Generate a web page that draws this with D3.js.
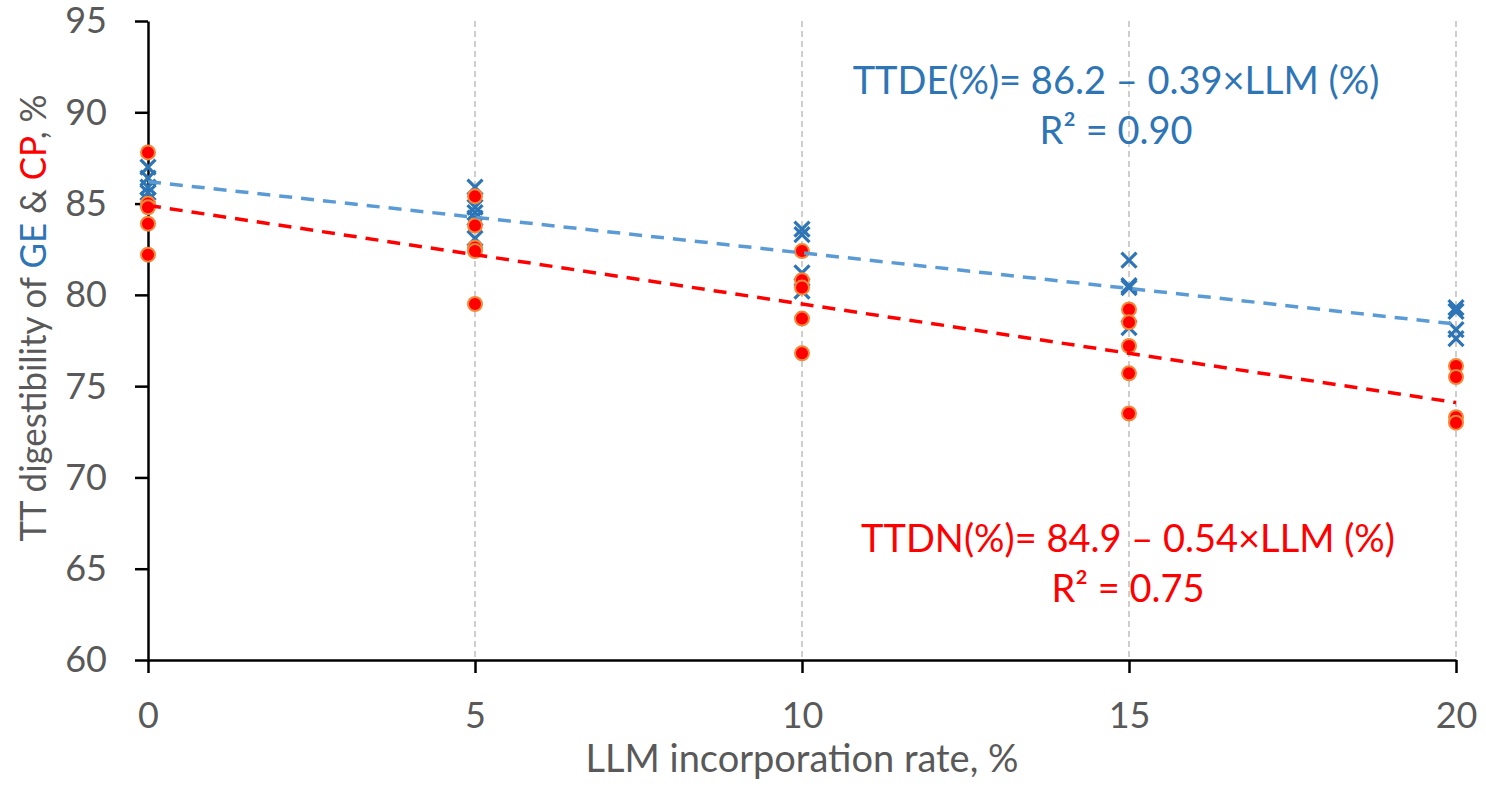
<!DOCTYPE html>
<html>
<head>
<meta charset="utf-8">
<script src="https://cdn.jsdelivr.net/npm/d3@7"></script>
<style>
  body { margin: 0; background: #fff; }
  text { font-family: Lato, "Open Sans", sans-serif; }
</style>
</head>
<body>
<div id="chart"></div>
<script>
let width_chart = 1486;
let height_chart = 789;
let margin_chart = {top: 21, right: 30, bottom: 129, left: 148};

let llm_levels = [0, 5, 10, 15, 20];
let ge_values = [
    [87.0, 86.4, 85.9, 85.6, 85.2],
    [85.9, 84.8, 84.5, 84.2, 83.1],
    [83.6, 83.3, 81.2, 80.2],
    [81.9, 80.5, 80.4, 78.2],
    [79.3, 79.1, 78.1, 77.6]
];
let cp_values = [
    [87.8, 85.0, 84.8, 83.9, 82.2],
    [85.4, 83.8, 82.6, 82.4, 79.5],
    [82.4, 80.8, 80.4, 78.7, 76.8],
    [79.2, 78.5, 77.2, 75.7, 73.5],
    [76.1, 75.5, 73.3, 73.0]
];
let ge_fit = {a: 86.2, b: -0.39};
let cp_fit = {a: 84.9, b: -0.54};
let x_ticks = [0, 5, 10, 15, 20];
let y_ticks = [60, 65, 70, 75, 80, 85, 90, 95];

let blue_text = "#2E75B6";
let red_text = "#FF0000";
let grey_text = "#595959";

let svg_chart = d3.select("#chart")
    .append("svg")
    .attr("width", width_chart)
    .attr("height", height_chart);

let plot_w = width_chart - margin_chart.left - margin_chart.right;
let plot_h = height_chart - margin_chart.top - margin_chart.bottom;

let xScale = d3.scaleLinear().domain([0, 20]).range([0, plot_w]);
let yScale = d3.scaleLinear().domain([60, 95]).range([plot_h, 0]);

let g = svg_chart.append("g")
    .attr("transform", "translate(" + margin_chart.left + "," + margin_chart.top + ")");

// vertical dashed gridlines
g.selectAll(".grid")
    .data(x_ticks.filter(d => d > 0))
    .join("line")
    .attr("class", "grid")
    .attr("x1", d => xScale(d)).attr("x2", d => xScale(d))
    .attr("y1", 0).attr("y2", plot_h)
    .attr("stroke", "#BFBFBF")
    .attr("stroke-width", 1.5)
    .attr("stroke-dasharray", "6,4");

// axes
let xAxis = d3.axisBottom(xScale).tickValues(x_ticks).tickSize(13).tickSizeOuter(0);
let yAxis = d3.axisLeft(yScale).tickValues(y_ticks).tickSize(13).tickSizeOuter(0);

let gx = g.append("g")
    .attr("transform", "translate(0," + plot_h + ")")
    .call(xAxis);
let gy = g.append("g").call(yAxis);

[gx, gy].forEach((ax) => {
    ax.select(".domain").attr("stroke", "#000").attr("stroke-width", 2.5);
    ax.selectAll(".tick line").attr("stroke", "#000").attr("stroke-width", 2.5);
    ax.selectAll(".tick text")
        .attr("fill", grey_text)
        .style("font-size", "36px");
});
gx.selectAll(".tick text").attr("y", 16).attr("dy", "52px");
gy.selectAll(".tick text").attr("x", -41).attr("dy", "0.33em");

// flatten points
let ge_points = [];
let cp_points = [];
llm_levels.forEach((lvl, i) => {
    ge_values[i].forEach(v => ge_points.push({x: lvl, y: v}));
    cp_values[i].forEach(v => cp_points.push({x: lvl, y: v}));
});

// GE: blue crosses
let cross = 7.5;
let ge_marks = g.selectAll(".ge")
    .data(ge_points)
    .join("g")
    .attr("class", "ge")
    .attr("transform", d => "translate(" + xScale(d.x) + "," + yScale(d.y) + ")");
ge_marks.append("path")
    .attr("d", "M" + (-cross) + "," + (-cross) + "L" + cross + "," + cross +
               "M" + (-cross) + "," + cross + "L" + cross + "," + (-cross))
    .attr("stroke", blue_text)
    .attr("stroke-width", 3.2)
    .attr("fill", "none");

// CP: red circles
g.selectAll(".cp")
    .data(cp_points)
    .join("circle")
    .attr("class", "cp")
    .attr("cx", d => xScale(d.x))
    .attr("cy", d => yScale(d.y))
    .attr("r", 7)
    .attr("fill", "#FF0000")
    .attr("stroke", "#F4883A")
    .attr("stroke-width", 2);

// trend lines
let fit_line = (fit) => d3.line()
    .x(d => xScale(d))
    .y(d => yScale(fit.a + fit.b * d))([0, 20]);

g.append("path")
    .attr("d", fit_line(ge_fit))
    .attr("stroke", "#5B9BD5")
    .attr("stroke-width", 3.5)
    .attr("stroke-dasharray", "13,9")
    .attr("fill", "none");
g.append("path")
    .attr("d", fit_line(cp_fit))
    .attr("stroke", "#FF0000")
    .attr("stroke-width", 3.5)
    .attr("stroke-dasharray", "13,9")
    .attr("fill", "none");

// equation labels
function add_equation(cx, cy, lines, color) {
    lines.forEach((txt, i) => {
        svg_chart.append("text")
            .attr("x", cx).attr("y", cy + i * 50)
            .attr("text-anchor", "middle")
            .attr("fill", color)
            .style("font-size", "38px")
            .text(txt);
    });
}
add_equation(1116, 94, ["TTDE(%)= 86.2 \u2013 0.39\u00D7LLM (%)", "R\u00B2 = 0.90"], blue_text);
add_equation(1128, 552, ["TTDN(%)= 84.9 \u2013 0.54\u00D7LLM (%)", "R\u00B2 = 0.75"], red_text);

// axis titles
svg_chart.append("text")
    .attr("x", margin_chart.left + plot_w / 2)
    .attr("y", 772)
    .attr("text-anchor", "middle")
    .attr("fill", grey_text)
    .style("font-size", "38px")
    .text("LLM incorporation rate, %");

let ylab = svg_chart.append("text")
    .attr("transform", "translate(46," + 318 + ") rotate(-90)")
    .attr("text-anchor", "middle")
    .attr("textLength", 447)
    .attr("lengthAdjust", "spacingAndGlyphs")
    .attr("fill", grey_text)
    .style("font-size", "37px");
[["TT digestibility of ", grey_text], ["GE", blue_text], [" & ", grey_text],
 ["CP", red_text], [", %", grey_text]].forEach(([t, c]) => {
    ylab.append("tspan").attr("fill", c).text(t);
});
</script>
</body>
</html>
